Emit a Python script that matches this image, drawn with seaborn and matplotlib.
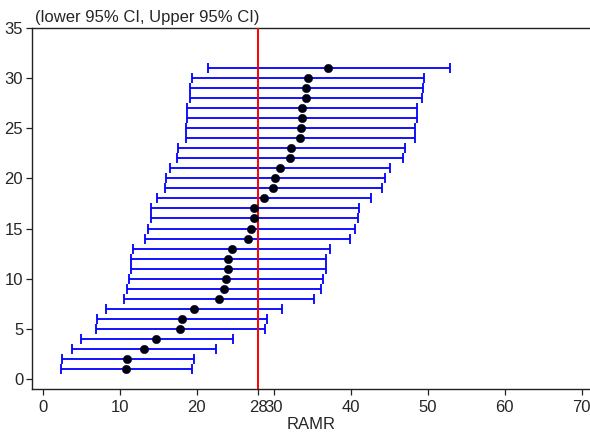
import matplotlib
matplotlib.use("Agg")
import matplotlib.pyplot as plt
import seaborn as sns
import pandas as pd

# Per-unit RAMR estimates with 95% confidence limits, ranked 1..31
rank = list(range(1, 32))
ramr = [10.82, 11.01, 13.18, 14.72, 17.88, 18.11, 19.60, 22.90, 23.50, 23.82,
        24.14, 24.14, 24.57, 26.62, 27.07, 27.45, 27.50, 28.70, 29.96, 30.20,
        30.84, 32.15, 32.27, 33.45, 33.50, 33.63, 33.63, 34.19, 34.24, 34.46,
        37.11]
lower = [2.37, 2.45, 3.86, 4.93, 6.97, 7.11, 8.27, 10.55, 11.01, 11.20,
         11.52, 11.52, 11.76, 13.33, 13.65, 14.03, 14.08, 14.91, 15.84, 16.07,
         16.49, 17.50, 17.64, 18.58, 18.58, 18.72, 18.72, 19.09, 19.19, 19.36,
         21.42]
upper = [19.36, 19.60, 22.57, 24.70, 28.84, 29.10, 31.06, 35.20, 36.10, 36.46,
         36.83, 36.83, 37.30, 39.98, 40.54, 41.00, 41.05, 42.59, 44.12, 44.50,
         45.10, 46.80, 47.05, 48.35, 48.35, 48.58, 48.58, 49.27, 49.37, 49.56,
         52.85]
reference = 28
x_ticks = [0, 10, 20, 28, 30, 40, 50, 60, 70]
y_ticks = [0, 5, 10, 15, 20, 25, 30, 35]

df = pd.DataFrame({"rank": rank, "RAMR": ramr, "lower": lower, "upper": upper})

sns.set_style("white")
plt.rcParams["font.family"] = ["Liberation Sans", "DejaVu Sans"]

fig = plt.figure(figsize=(5.9, 4.32), dpi=100)
ax = fig.add_axes([0.0547, 0.0990, 0.9453, 0.8370])

# Confidence interval whiskers
ax.errorbar(df["RAMR"], df["rank"],
            xerr=[df["RAMR"] - df["lower"], df["upper"] - df["RAMR"]],
            fmt="none", ecolor="#0000ff", elinewidth=1.3, capsize=3.4,
            capthick=1.3, zorder=2)

# Reference value
ax.axvline(reference, color="#ff0000", lw=1.4, zorder=3)

# Point estimates
sns.scatterplot(data=df, x="RAMR", y="rank", ax=ax, color="#000010",
                edgecolor="#000030", linewidth=0.4, s=36, zorder=4,
                legend=False)

ax.set_xlim(-1.35, 71.1)
ax.set_ylim(-1, 35)
ax.set_xticks(x_ticks)
ax.set_yticks(y_ticks)
ax.tick_params(axis="both", direction="out", length=4.5, width=0.9,
               labelsize=12, color="#222222", pad=3)
ax.tick_params(axis="x", bottom=True)
ax.tick_params(axis="y", left=True, pad=2)
ax.set_xlabel("RAMR", fontsize=12, labelpad=1.5)
ax.set_ylabel("")

for side in ["left", "bottom", "top"]:
    ax.spines[side].set_color("#222222")
    ax.spines[side].set_linewidth(1.0)
ax.spines["right"].set_visible(False)

ax.text(0.005, 1.006, "(lower 95% CI, Upper 95% CI)", transform=ax.transAxes,
        fontsize=12, ha="left", va="bottom")

fig.savefig("out.png", dpi=100)
